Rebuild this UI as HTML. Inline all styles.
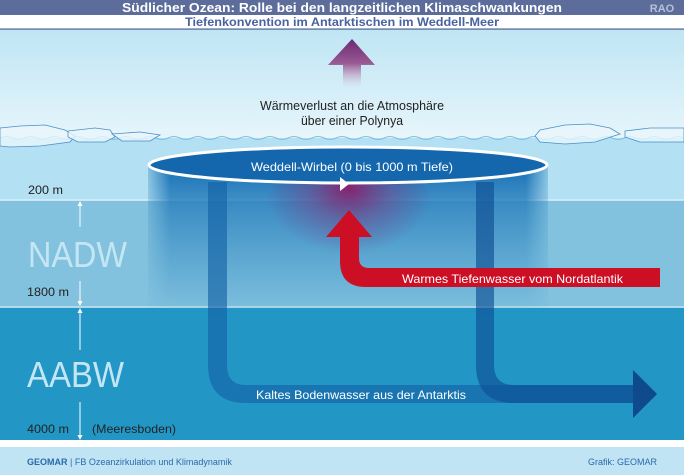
<!DOCTYPE html>
<html><head><meta charset="utf-8"><style>
html,body{margin:0;padding:0;background:#fff}
svg{display:block}
text{font-family:"Liberation Sans",sans-serif}
</style></head><body>
<svg width="684" height="475" viewBox="0 0 684 475" xmlns="http://www.w3.org/2000/svg">
<defs>
<linearGradient id="sky" x1="0" y1="0" x2="0" y2="1">
<stop offset="0" stop-color="#bfe5f4"/><stop offset="1" stop-color="#e6f5fb"/>
</linearGradient>
<radialGradient id="glow" cx="0.5" cy="1" r="0.6">
<stop offset="0" stop-color="#ffffff" stop-opacity="1"/><stop offset="1" stop-color="#ffffff" stop-opacity="0"/>
</radialGradient>
<linearGradient id="cyl" x1="0" y1="0" x2="0" y2="1">
<stop offset="0" stop-color="#1570b4" stop-opacity="1"/><stop offset="0.3" stop-color="#2a7fbd" stop-opacity="0.75"/><stop offset="1" stop-color="#2a86c2" stop-opacity="0"/>
</linearGradient>
<linearGradient id="cylx" x1="0" y1="0" x2="1" y2="0">
<stop offset="0" stop-color="#fff" stop-opacity="0.2"/><stop offset="0.06" stop-color="#fff" stop-opacity="1"/><stop offset="0.94" stop-color="#fff" stop-opacity="1"/><stop offset="1" stop-color="#fff" stop-opacity="0.2"/>
</linearGradient>
<mask id="cm"><rect x="146" y="160" width="404" height="160" fill="url(#cylx)"/></mask>
<radialGradient id="purp" cx="0.5" cy="0.3" r="0.5">
<stop offset="0" stop-color="#8a1f6a" stop-opacity="0.95"/><stop offset="0.5" stop-color="#7a3a80" stop-opacity="0.45"/><stop offset="1" stop-color="#6a3a8a" stop-opacity="0"/>
</radialGradient>
<linearGradient id="parr" x1="0" y1="0" x2="0" y2="1">
<stop offset="0" stop-color="#6a2a70"/><stop offset="0.5" stop-color="#9a5a95"/><stop offset="1" stop-color="#d8c0d8" stop-opacity="0"/>
</linearGradient>
</defs>
<rect x="0" y="0" width="684" height="15" fill="#5d6d9b"/>
<text x="342" y="12" text-anchor="middle" font-size="13" font-weight="bold" fill="#fff" textLength="440" lengthAdjust="spacingAndGlyphs">Südlicher Ozean: Rolle bei den langzeitlichen Klimaschwankungen</text>
<text x="662" y="12" text-anchor="middle" font-size="11" font-weight="bold" fill="#b8c0d8">RAO</text>
<rect x="0" y="15" width="684" height="14" fill="#fff"/>
<text x="342" y="26" text-anchor="middle" font-size="12" font-weight="bold" fill="#4a64a0" textLength="314" lengthAdjust="spacingAndGlyphs">Tiefenkonvention im Antarktischen im Weddell-Meer</text>
<rect x="0" y="28.5" width="684" height="1.2" fill="#3a5a8a"/>
<rect x="0" y="30" width="684" height="108" fill="url(#sky)"/>
<ellipse cx="352" cy="138" rx="230" ry="100" fill="url(#glow)"/>
<rect x="0" y="138" width="684" height="62" fill="#b3e0f2"/>
<path d="M0 138 Q6 135 12 138 T24 138 T36 138 T48 138 T60 138 T72 138 T84 138 T96 138 T108 138 T120 138 T132 138 T144 138 T156 138 T168 138 T180 138 T192 138 T204 138 T216 138 T228 138 T240 138 T252 138 T264 138 T276 138 T288 138 T300 138 T312 138 T324 138 T336 138 T348 138 T360 138 T372 138 T384 138 T396 138 T408 138 T420 138 T432 138 T444 138 T456 138 T468 138 T480 138 T492 138 T504 138 T516 138 T528 138 T540 138 T552 138 T564 138 T576 138 T588 138 T600 138 T612 138 T624 138 T636 138 T648 138 T660 138 T672 138 T684 138" fill="none" stroke="#7fbfe0" stroke-width="1"/>
<g fill="#e8f6fc" stroke="#4a90c8" stroke-width="0.8" fill-opacity="0.8">
<path d="M0 128 L20 126 L45 125 L65 130 L75 136 L70 142 L40 146 L10 147 L0 146 Z"/>
<path d="M68 131 L95 128 L110 130 L115 137 L105 142 L78 142 L68 137 Z"/>
<path d="M112 134 L140 132 L160 135 L150 141 L122 141 Z"/>
<path d="M540 130 L565 125 L590 124 L610 128 L620 134 L595 142 L565 144 L540 142 L535 136 Z"/>
<path d="M625 131 L650 128 L684 128 L684 142 L640 142 L625 137 Z"/>
</g>
<path d="M352 39 L375 65 L361 65 L361 88 L343 88 L343 65 L328 65 Z" fill="url(#parr)"/>
<text x="352" y="110" text-anchor="middle" font-size="13" fill="#222" textLength="184" lengthAdjust="spacingAndGlyphs">Wärmeverlust an die Atmosphäre</text>
<text x="352" y="125" text-anchor="middle" font-size="13" fill="#222" textLength="102" lengthAdjust="spacingAndGlyphs">über einer Polynya</text>
<rect x="0" y="200" width="684" height="107" fill="#82c2de"/>
<rect x="0" y="199.5" width="684" height="1.2" fill="#e8f6fc"/>
<rect x="0" y="307" width="684" height="133" fill="#2297c6"/>
<rect x="0" y="306.5" width="684" height="1.2" fill="#e8f6fc"/>
<rect x="0" y="440" width="684" height="7" fill="#fff"/>
<rect x="0" y="447" width="684" height="28" fill="#c0e4f4"/>
<rect x="148" y="166" width="400" height="150" fill="url(#cyl)" mask="url(#cm)"/>
<ellipse cx="349" cy="215" rx="85" ry="65" fill="url(#purp)"/>
<path d="M208 182 L208 365 Q208 403 246 403 L633 403 L633 385 L246 385 Q227 385 227 365 L227 182 Z" fill="#1462a6" fill-opacity="0.65"/>
<path d="M476 182 L476 365 Q476 403 514 403 L633 403 L633 418 L657 394 L633 370 L633 385 L514 385 Q494 385 494 365 L494 182 Z" fill="#0e4f94" fill-opacity="0.65"/>
<path d="M633 370 L657 394 L633 418 Z" fill="#0f4a8c"/>
<ellipse cx="348" cy="165" rx="199" ry="18" fill="#1567ad" stroke="#fff" stroke-width="3"/>
<path d="M340 177 L349 184 L340 191 Z" fill="#fff"/>
<text x="352" y="171" text-anchor="middle" font-size="12" fill="#fff" textLength="202" lengthAdjust="spacingAndGlyphs">Weddell-Wirbel  (0 bis 1000 m Tiefe)</text>
<path d="M349 210 L372 237 L359 237 L359 258 Q359 268 369 268 L660 268 L660 287 L366 287 Q340 287 340 261 L340 237 L326 237 Z" fill="#cc0f25"/>
<text x="402" y="283" font-size="12" fill="#fff" textLength="221" lengthAdjust="spacingAndGlyphs">Warmes Tiefenwasser vom Nordatlantik</text>
<text x="256" y="399" font-size="12" fill="#fff" textLength="210" lengthAdjust="spacingAndGlyphs">Kaltes Bodenwasser aus der Antarktis</text>
<text x="28" y="194" font-size="12" fill="#222" textLength="35" lengthAdjust="spacingAndGlyphs">200 m</text>
<text x="28" y="267" font-size="36" fill="#c4e6f4" textLength="99" lengthAdjust="spacingAndGlyphs">NADW</text>
<text x="27" y="296" font-size="12" fill="#222" textLength="42" lengthAdjust="spacingAndGlyphs">1800 m</text>
<text x="27" y="387" font-size="36" fill="#c4e6f4" textLength="97" lengthAdjust="spacingAndGlyphs">AABW</text>
<text x="27" y="433" font-size="12" fill="#222" textLength="42" lengthAdjust="spacingAndGlyphs">4000 m</text>
<text x="92" y="433" font-size="12" fill="#222" textLength="84" lengthAdjust="spacingAndGlyphs">(Meeresboden)</text>
<g stroke="#fff" stroke-width="1">
<line x1="80" y1="203" x2="80" y2="227"/><line x1="80" y1="281" x2="80" y2="304"/>
<line x1="80" y1="310" x2="80" y2="350"/><line x1="80" y1="402" x2="80" y2="438"/>
</g>
<g fill="#fff">
<path d="M77.5 206 L80 201 L82.5 206Z"/><path d="M77.5 301 L80 306 L82.5 301Z"/>
<path d="M77.5 313 L80 308 L82.5 313Z"/><path d="M77.5 435 L80 440 L82.5 435Z"/>
</g>
<text x="27" y="465" font-size="9" fill="#2a6aaa"><tspan font-weight="bold">GEOMAR</tspan> | FB Ozeanzirkulation und Klimadynamik</text>
<text x="657" y="465" text-anchor="end" font-size="9" fill="#2a6aaa">Grafik: GEOMAR</text>
</svg>
</body></html>
